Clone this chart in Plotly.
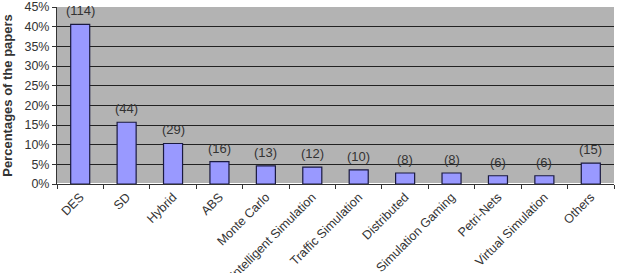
import plotly.graph_objects as go

categories = ["DES", "SD", "Hybrid", "ABS", "Monte Carlo", "Intelligent Simulation",
              "Traffic Simulation", "Distributed", "Simulation Gaming", "Petri-Nets",
              "Virtual Simulation", "Others"]
counts = [114, 44, 29, 16, 13, 12, 10, 8, 8, 6, 6, 15]
percentages = [40.6, 15.7, 10.3, 5.7, 4.6, 4.3, 3.6, 2.8, 2.8, 2.1, 2.1, 5.3]
y_ticks = [0, 5, 10, 15, 20, 25, 30, 35, 40, 45]

font = "Liberation Sans, Arial, sans-serif"

fig = go.Figure()
fig.add_trace(go.Bar(
    x=categories, y=percentages,
    marker=dict(color="#9999ff", line=dict(color="#1a1a40", width=1.2)),
    width=0.41,
))
for c, p, n in zip(categories, percentages, counts):
    fig.add_annotation(x=c, y=p, text=f"({n})", showarrow=False,
                       yanchor="bottom", yshift=4,
                       font=dict(family=font, size=13, color="#333"))

fig.update_layout(
    width=619, height=273,
    margin=dict(l=57, r=5, t=7, b=89),
    paper_bgcolor="white", plot_bgcolor="#b3b3b3",
    showlegend=False,
    font=dict(family=font, size=12.5, color="#333"),
)
fig.update_xaxes(
    tickangle=-45, ticks="outside", tickson="boundaries", ticklen=4,
    tickcolor="#333", showline=True, linecolor="#333", linewidth=1,
    showgrid=False, tickfont=dict(family=font, size=12.5, color="#333"),
    mirror=False, automargin=False,
)
fig.update_yaxes(
    range=[0, 45], tickvals=y_ticks, ticktext=[f"{v}%" for v in y_ticks],
    ticks="outside", ticklen=4, tickcolor="#333",
    showline=True, linecolor="#333", linewidth=1,
    showgrid=True, gridcolor="#222", gridwidth=1.2,
    tickfont=dict(family=font, size=12.5, color="#333"),
    automargin=False,
    title=dict(text="<b>Percentages of the papers</b>", standoff=8,
               font=dict(family=font, size=13, color="#333")),
)
fig.write_html("out.html")
